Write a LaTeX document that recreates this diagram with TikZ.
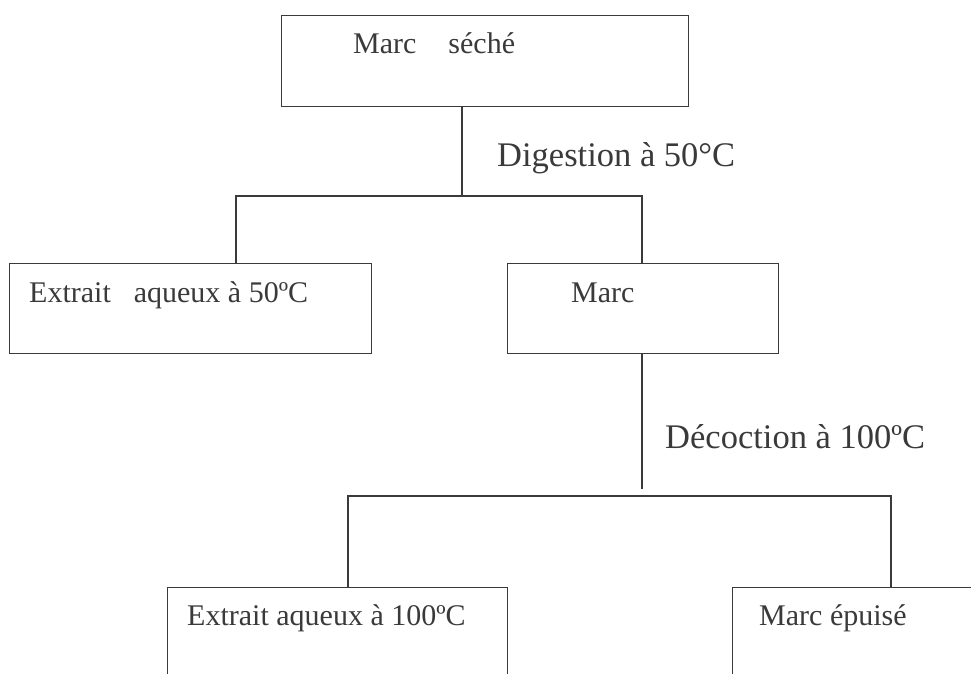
\documentclass[tikz,border=0pt]{standalone}
\usepackage{fontspec}
\setmainfont{Liberation Serif}
\definecolor{ink}{HTML}{3A3A3A}
\begin{document}
\begin{tikzpicture}[x=1pt,y=-1pt,
  box/.style={draw=ink,line width=1.4pt,rectangle,inner sep=0pt,anchor=north west},
  boxtext/.style={anchor=base west,inner sep=0pt,text=ink,font=\fontsize{30}{36}\selectfont},
  steplabel/.style={anchor=base west,inner sep=0pt,text=ink,font=\fontsize{34.5}{40}\selectfont},
  link/.style={draw=ink,line width=1.4pt}]
\useasboundingbox (0,0) rectangle (971,673);
\fill[white] (0,0) rectangle (971,673);
\clip (0,0) rectangle (971,673);
% boxes
\node[box,minimum width=407pt,minimum height=91pt] (top) at (281,15) {};
\node[box,minimum width=362pt,minimum height=90pt] (ext50) at (9,263) {};
\node[box,minimum width=271pt,minimum height=90pt] (marc) at (507,263) {};
\node[box,minimum width=340pt,minimum height=100pt] (ext100) at (167,587) {};
\node[box,minimum width=340pt,minimum height=100pt] (epuise) at (732,587) {};
% junctions
\coordinate (j1) at (462,196);
\coordinate (j1l) at (236,196);
\coordinate (j1r) at (642,196);
\coordinate (j2) at (642,489);
\coordinate (j2l) at (348,496);
\coordinate (j2r) at (891,496);
% connectors
\draw[link] (top.south -| j1) -- (j1);
\draw[link] (ext50.north -| j1l) |- (j1r) -- (marc.north -| j1r);
\draw[link] (marc.south -| j2) -- (j2);
\draw[link] (ext100.north -| j2l) |- (j2r) -- (epuise.north -| j2r);
% texts
\node[boxtext] (t1) at (353,53) {Marc\hspace{32pt}séché};
\node[steplabel] (l1) at (497,166) {Digestion à 50°C};
\node[boxtext] (t2) at (29,302) {Extrait\hspace{23pt}aqueux à 50ºC};
\node[boxtext] (t3) at (571,302) {Marc};
\node[steplabel] (l2) at (665,448) {Décoction à 100ºC};
\node[boxtext] (t4) at (187,625) {Extrait aqueux à 100ºC};
\node[boxtext] (t5) at (759,625) {Marc épuisé};
\end{tikzpicture}
\end{document}
